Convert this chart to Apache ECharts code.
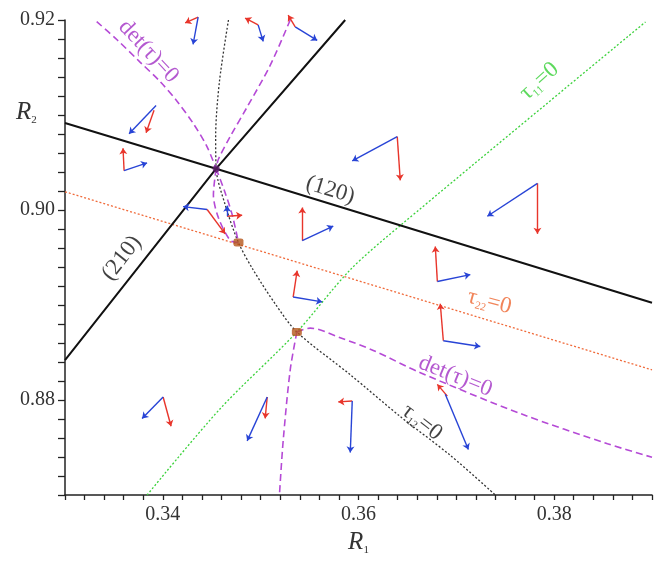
<!DOCTYPE html>
<html>
<head>
<meta charset="utf-8">
<script src="https://cdn.jsdelivr.net/npm/echarts@6/dist/echarts.min.js"></script>
<style>
  html, body { margin: 0; padding: 0; background: #fff; }
  #chart { width: 658px; height: 561px; }
</style>
</head>
<body>
<div id="chart"></div>
<script>
// Axis ranges and labelled ticks
var xRange = [0.33, 0.39];
var yRange = [0.87, 0.92];
var xTickLabels = [0.34, 0.36, 0.38];
var yTickLabels = [0.88, 0.90, 0.92];

// Domain boundaries (120) and (210)
var line120 = [[0.33, 0.90916], [0.34545, 0.90435], [0.39, 0.89023]];
var line210 = [[0.33, 0.88419], [0.34545, 0.90435], [0.35864, 0.92]];

// Zero lines of the tension components
var tau11 = [[0.33839, 0.87], [0.34586, 0.87908], [0.35370, 0.88716], [0.35916, 0.89371], [0.36445, 0.89852], [0.38934, 0.91980]];
var tau22 = [[0.33, 0.90192], [0.39, 0.88317]];
var tau12 = [[0.34671, 0.92], [0.34579, 0.91356], [0.34540, 0.90772], [0.34545, 0.90435], [0.34637, 0.90056],
             [0.34773, 0.89657], [0.34923, 0.89371], [0.35148, 0.89013], [0.35370, 0.88716], [0.35916, 0.88266],
             [0.36427, 0.87826], [0.36939, 0.87417], [0.37399, 0.87]];

// det(tau)=0 branches
var detUpperLeft = [[0.33324, 0.91983], [0.33529, 0.91795], [0.33767, 0.91557], [0.33972, 0.91352], [0.34143, 0.91148],
                    [0.34313, 0.90908], [0.34450, 0.90670], [0.34545, 0.90435]];
var detUpperRight = [[0.35302, 0.92], [0.35097, 0.91522], [0.34859, 0.91079], [0.34688, 0.90772], [0.34568, 0.90534], [0.34545, 0.90435]];
var detLensLeft = [[0.34545, 0.90435], [0.34517, 0.90159], [0.34568, 0.89920], [0.34688, 0.89681], [0.34773, 0.89657]];
var detLensRight = [[0.34545, 0.90435], [0.34627, 0.90210], [0.34708, 0.89954], [0.34773, 0.89657]];
var detLowerRight = [[0.35370, 0.88716], [0.35506, 0.88757], [0.35813, 0.88655], [0.36151, 0.88522], [0.36632, 0.88287],
                     [0.37655, 0.87857], [0.38545, 0.87540], [0.39, 0.87397]];
var detLowerDown = [[0.35370, 0.88716], [0.35302, 0.88317], [0.35230, 0.87570], [0.35192, 0.87]];

// Special points
var crossPoint = [[0.34545, 0.90435]];
var fixedPoints = [[0.34773, 0.89657], [0.35370, 0.88716]];

// Eigenvector pairs: [x0, y0, x1, y1]
var redArrows = [
  [0.34361, 0.92031, 0.34228, 0.91969],
  [0.33910, 0.91049, 0.33829, 0.90813],
  [0.33604, 0.90414, 0.33593, 0.90650],
  [0.34974, 0.91949, 0.34841, 0.92020],
  [0.35353, 0.91928, 0.35281, 0.92051],
  [0.34453, 0.90005, 0.34637, 0.89749],
  [0.34657, 0.89934, 0.34811, 0.89944],
  [0.35425, 0.89678, 0.35425, 0.90026],
  [0.36396, 0.90772, 0.36427, 0.90312],
  [0.37829, 0.90281, 0.37829, 0.89749],
  [0.36806, 0.89248, 0.36785, 0.89616],
  [0.35332, 0.89084, 0.35373, 0.89361],
  [0.36867, 0.88624, 0.36836, 0.89013],
  [0.36908, 0.88041, 0.36806, 0.88164],
  [0.35936, 0.87990, 0.35793, 0.87980],
  [0.35067, 0.88031, 0.35046, 0.87806],
  [0.34003, 0.88031, 0.34084, 0.87724]
];
var blueArrows = [
  [0.34361, 0.92031, 0.34309, 0.91744],
  [0.33931, 0.91100, 0.33655, 0.90803],
  [0.33604, 0.90414, 0.33839, 0.90496],
  [0.34974, 0.91949, 0.35026, 0.91775],
  [0.35353, 0.91928, 0.35578, 0.91785],
  [0.34453, 0.90005, 0.34207, 0.90036],
  [0.34657, 0.89934, 0.34657, 0.90046],
  [0.35425, 0.89678, 0.35742, 0.89831],
  [0.36396, 0.90772, 0.35936, 0.90517],
  [0.37829, 0.90281, 0.37317, 0.89934],
  [0.36806, 0.89248, 0.37143, 0.89320],
  [0.35332, 0.89084, 0.35629, 0.89033],
  [0.36867, 0.88624, 0.37245, 0.88563],
  [0.36887, 0.88061, 0.37123, 0.87478],
  [0.35936, 0.87990, 0.35916, 0.87448],
  [0.35067, 0.88031, 0.34862, 0.87570],
  [0.34003, 0.88031, 0.33788, 0.87806]
];

// Curve annotations: position, rotation (deg), text
var annotations = [
  { pos: [0.33854, 0.91668], rot: -47, color: '#a12fc4', text: '{t|det(τ)=0}' },
  { pos: [0.36990, 0.88250], rot: -22, color: '#a12fc4', text: '{t|det(τ)=0}' },
  { pos: [0.35711, 0.90210], rot: -17, color: '#111111', text: '{t|(120)}' },
  { pos: [0.33580, 0.89494], rot: 52, color: '#111111', text: '{t|(210)}' },
  { pos: [0.37849, 0.91356], rot: 42, color: '#35cf35', text: '{t|τ}{s|11}{t|=0}' },
  { pos: [0.37338, 0.89033], rot: -15, color: '#ee6530', text: '{t|τ}{s|22}{t|=0}' },
  { pos: [0.36649, 0.87765], rot: -38, color: '#111111', text: '{t|τ}{s|12}{t|=0}' }
];

var SERIF = '"Liberation Serif", "DejaVu Serif", serif';

function near(v, list) {
  for (var i = 0; i < list.length; i++) if (Math.abs(v - list[i]) < 1e-6) return true;
  return false;
}

function curve(data, color, type, width, smooth, z) {
  return {
    type: 'line', data: data, showSymbol: false, symbol: 'none', silent: true,
    smooth: smooth, z: z || 2,
    lineStyle: { color: color, type: type, width: width }
  };
}

function arrows(list, color) {
  return {
    type: 'lines', coordinateSystem: 'cartesian2d', silent: true, z: 5,
    symbol: ['none', 'arrow'], symbolSize: 6, clip: false,
    lineStyle: { color: color, width: 1.4, opacity: 1, curveness: 0 },
    data: list.map(function (a) { return { coords: [[a[0], a[1]], [a[2], a[3]]] }; })
  };
}

var PURPLE = '#b54ad6';
var series = [
  curve(line120, '#111', 'solid', 2, false, 3),
  curve(line210, '#111', 'solid', 2, false, 3),
  curve(tau11, '#3ad13a', [2, 2], 1.3, 0.3),
  curve(tau22, '#f06a3a', [2, 2], 1.3, false),
  curve(tau12, '#333', [2, 2], 1.3, 0.3),
  curve(detUpperLeft, PURPLE, [7, 4], 1.6, 0.3),
  curve(detUpperRight, PURPLE, [7, 4], 1.6, 0.3),
  curve(detLensLeft, PURPLE, [7, 4], 1.6, 0.3),
  curve(detLensRight, PURPLE, [7, 4], 1.6, 0.3),
  curve(detLowerRight, PURPLE, [7, 4], 1.6, 0.3),
  curve(detLowerDown, PURPLE, [7, 4], 1.6, 0.3),
  arrows(redArrows, '#e8352b'),
  arrows(blueArrows, '#2844d6'),
  {
    type: 'scatter', data: crossPoint, symbol: 'circle', symbolSize: 7, z: 6, silent: true,
    itemStyle: { color: '#5c1c6a' }
  },
  {
    type: 'scatter', data: fixedPoints, symbol: 'roundRect', symbolSize: [10, 8], z: 6, silent: true,
    itemStyle: { color: '#b5561b' }
  }
];

annotations.forEach(function (a) {
  series.push({
    type: 'scatter', data: [a.pos], symbolSize: 0, silent: true, z: 7,
    label: {
      show: true, position: 'inside', rotate: a.rot, formatter: a.text,
      rich: {
        t: { fontFamily: SERIF, fontSize: 23, color: a.color },
        s: { fontFamily: SERIF, fontSize: 11, color: a.color, padding: [14, 0, 0, 0] }
      }
    }
  });
});

var chart = echarts.init(document.getElementById('chart'), null, { renderer: 'canvas' });
chart.setOption({
  animation: false,
  backgroundColor: '#ffffff',
  grid: { left: 65, right: 6, top: 20, bottom: 52, containLabel: false },
  xAxis: {
    type: 'value', min: xRange[0], max: xRange[1], interval: 0.002,
    axisLine: { show: true, lineStyle: { color: '#222', width: 1.5 } },
    axisTick: { show: true, inside: false, length: 5, lineStyle: { color: '#222', width: 1.3 } },
    splitLine: { show: false },
    axisLabel: {
      fontFamily: SERIF, fontSize: 20, color: '#333', margin: 10,
      formatter: function (v) { return near(v, xTickLabels) ? v.toFixed(2) : ''; }
    },
    name: '{r|R}{s|1}', nameLocation: 'middle', nameGap: 34,
    nameTextStyle: {
      rich: {
        r: { fontFamily: SERIF, fontStyle: 'italic', fontSize: 25, color: '#333' },
        s: { fontFamily: SERIF, fontSize: 11, color: '#333', padding: [16, 0, 0, 0] }
      }
    }
  },
  yAxis: {
    type: 'value', min: yRange[0], max: yRange[1], interval: 0.002,
    axisLine: { show: true, lineStyle: { color: '#222', width: 1.5 } },
    axisTick: { show: true, inside: false, length: 7, lineStyle: { color: '#222', width: 1.3 } },
    splitLine: { show: false },
    axisLabel: {
      fontFamily: SERIF, fontSize: 20, color: '#333', margin: 10,
      formatter: function (v) { return near(v, yTickLabels) ? v.toFixed(2) : ''; }
    }
  },
  graphic: [{
    type: 'text', left: 16, top: 100, silent: true,
    style: {
      text: '{r|R}{s|2}', fill: '#333',
      rich: {
        r: { fontFamily: SERIF, fontStyle: 'italic', fontSize: 25, fill: '#333' },
        s: { fontFamily: SERIF, fontSize: 11, fill: '#333', padding: [16, 0, 0, 0] }
      }
    }
  }],
  series: series
});
</script>
</body>
</html>
